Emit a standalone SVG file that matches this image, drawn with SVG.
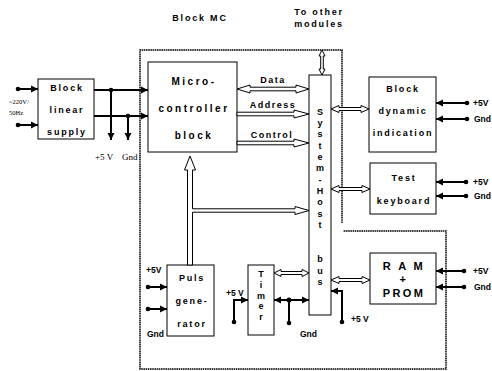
<svg xmlns="http://www.w3.org/2000/svg" width="492" height="371" viewBox="0 0 492 371">
<style>
.box{fill:#fff;stroke:#000;stroke-width:1}
.t{font-family:"Liberation Sans",Arial,sans-serif;font-weight:bold;font-size:9px;letter-spacing:1.8px;text-anchor:middle;fill:#000}
.big{font-size:10px;letter-spacing:2.5px}
.ram{font-size:11px;letter-spacing:2.4px}
.v{font-family:"Liberation Sans",Arial,sans-serif;font-weight:bold;font-size:9px;text-anchor:middle;fill:#000}
.lbl{font-family:"Liberation Sans",Arial,sans-serif;font-weight:bold;font-size:8.5px;fill:#000}
.ser{font-family:"Liberation Serif","Times New Roman",serif;font-size:9px;fill:#000}
.hol{fill:#fff;stroke:#000;stroke-width:1;stroke-linejoin:miter}
.w{fill:none;stroke:#000;stroke-width:2}
.dot{fill:#000}
.border{fill:none;stroke:#000;stroke-width:1.5;stroke-dasharray:1.6 0.6}
</style>
<defs>
<marker id="ah" markerUnits="userSpaceOnUse" markerWidth="8" markerHeight="8" refX="7" refY="4" orient="auto-start-reverse">
<path d="M0,0.5 L7,4 L0,7.5 z" fill="#000"/>
</marker>
</defs>

<g id="labels">
<text class="t" x="200" y="21">Block MC</text>
<text class="t" x="319" y="15">To other</text>
<text class="t" x="319" y="27">modules</text>
</g>

<path id="mc-border" class="border" d="M342,223 L342,50 L140,50 L140,369 L446,369 L446,231 L343,231"/>

<g id="linear-supply">
<rect class="box" x="38" y="79" width="56" height="60"/>
<text class="t" x="67" y="91">Block</text>
<text class="t" x="67" y="113">linear</text>
<text class="t" x="67" y="135">supply</text>
<text class="ser" x="9" y="104" style="font-size:6.5px">~220V/</text>
<text class="ser" x="9" y="115" style="font-size:6.5px">50Hz</text>
<text class="ser" x="95" y="160">+5 V</text>
<text class="ser" x="122" y="160">Gnd</text>
</g>

<g id="microcontroller">
<rect class="box" x="148" y="62" width="89" height="90"/>
<text class="t big" x="194" y="85">Micro-</text>
<text class="t big" x="194" y="112">controller</text>
<text class="t big" x="194" y="139">block</text>
</g>

<g id="system-host-bus">
<rect class="box" x="309" y="75" width="22" height="240"/>
<text class="v" x="320" y="114.5">S</text>
<text class="v" x="320" y="125.9">y</text>
<text class="v" x="320" y="137.2">s</text>
<text class="v" x="320" y="148.6">t</text>
<text class="v" x="320" y="159.9">e</text>
<text class="v" x="320" y="171.3">m</text>
<text class="v" x="320" y="182.7">-</text>
<text class="v" x="320" y="194">H</text>
<text class="v" x="320" y="205.4">o</text>
<text class="v" x="320" y="216.7">s</text>
<text class="v" x="320" y="228.1">t</text>
<text class="v" x="320" y="262.2">b</text>
<text class="v" x="320" y="273.5">u</text>
<text class="v" x="320" y="284.9">s</text>
</g>

<g id="dynamic-indication">
<rect class="box" x="369" y="77" width="67" height="75"/>
<text class="t" x="403" y="91.5">Block</text>
<text class="t" x="403" y="114">dynamic</text>
<text class="t" x="403" y="136">indication</text>
</g>

<g id="test-keyboard">
<rect class="box" x="370" y="163" width="66" height="51"/>
<text class="t" x="404" y="181">Test</text>
<text class="t" x="404" y="204">keyboard</text>
</g>

<g id="ram-prom">
<rect class="box" x="370" y="253" width="66" height="51"/>
<text class="t ram" x="404" y="270">R A M</text>
<text class="t ram" x="404" y="283">+</text>
<text class="t ram" x="404" y="297">PROM</text>
</g>

<g id="puls-generator">
<rect class="box" x="167" y="265" width="47" height="71"/>
<text class="t" x="192" y="281">Puls</text>
<text class="t" x="192" y="304">gene-</text>
<text class="t" x="192" y="327">rator</text>
<text class="lbl" x="146" y="273">+5V</text>
<text class="lbl" x="147" y="337">Gnd</text>
</g>

<g id="timer">
<rect class="box" x="248" y="265" width="26" height="70"/>
<text class="v" x="261" y="277">T</text>
<text class="v" x="261" y="287.8">i</text>
<text class="v" x="261" y="298.6">m</text>
<text class="v" x="261" y="309.4">e</text>
<text class="v" x="261" y="320.2">r</text>
<text class="lbl" x="226" y="296">+5 V</text>
<text class="lbl" x="300" y="337">Gnd</text>
</g>

<g id="connectors">
<polygon class="hol" points="237,89 250,85 250,87.2 296,87.2 296,85 309,89 296,93 296,90.8 250,90.8 250,93"/>
<polygon class="hol" points="237,112.2 294,112.2 294,110 309,114 294,118 294,115.8 237,115.8"/>
<polygon class="hol" points="237,141.2 294,141.2 294,139 309,143 294,147 294,144.8 237,144.8"/>
<polygon class="hol" points="190,156 195.5,170 192.5,170 192.5,208.8 295,208.8 295,206.5 309,210.5 295,214.5 295,212.2 192.5,212.2 192.5,265 187.5,265 187.5,170 184.5,170"/>
<polygon class="hol" points="331,109 339,105.5 339,107.5 361,107.5 361,105.5 369,109 361,112.5 361,110.5 339,110.5 339,112.5"/>
<polygon class="hol" points="331,189 339,185.5 339,187.5 362,187.5 362,185.5 370,189 362,192.5 362,190.5 339,190.5 339,192.5"/>
<polygon class="hol" points="331,280 339,276.5 339,278.5 362,278.5 362,276.5 370,280 362,283.5 362,281.5 339,281.5 339,283.5"/>
<polygon class="hol" points="274,273 281,269.5 281,271.5 302,271.5 302,269.5 309,273 302,276.5 302,274.5 281,274.5 281,276.5"/>
<polygon class="hol" points="322,50 325,56 323.3,56 323.3,69 325,69 322,75 319,69 320.7,69 320.7,56 319,56"/>

<line class="w" x1="18" y1="89" x2="38" y2="89" marker-end="url(#ah)"/>
<line class="w" x1="18" y1="125" x2="38" y2="125" marker-end="url(#ah)"/>
<circle class="dot" cx="18" cy="89" r="2.3"/>
<circle class="dot" cx="18" cy="125" r="2.3"/>
<line class="w" x1="94" y1="90" x2="148" y2="90" marker-end="url(#ah)"/>
<line class="w" x1="94" y1="116" x2="148" y2="116" marker-end="url(#ah)"/>
<circle class="dot" cx="111" cy="90" r="2.3"/>
<circle class="dot" cx="128" cy="116" r="2.3"/>
<line class="w" x1="111" y1="90" x2="111" y2="140" marker-end="url(#ah)"/>
<line class="w" x1="128" y1="116" x2="128" y2="140" marker-end="url(#ah)"/>

<line class="w" x1="467" y1="103" x2="436" y2="103" marker-end="url(#ah)"/>
<line class="w" x1="467" y1="119" x2="436" y2="119" marker-end="url(#ah)"/>
<circle class="dot" cx="467" cy="103" r="2.3"/>
<circle class="dot" cx="467" cy="119" r="2.3"/>
<line class="w" x1="466" y1="182" x2="436" y2="182" marker-end="url(#ah)"/>
<line class="w" x1="466" y1="196" x2="436" y2="196" marker-end="url(#ah)"/>
<circle class="dot" cx="466" cy="182" r="2.3"/>
<circle class="dot" cx="466" cy="196" r="2.3"/>
<line class="w" x1="464" y1="271" x2="436" y2="271" marker-end="url(#ah)"/>
<line class="w" x1="464" y1="287" x2="436" y2="287" marker-end="url(#ah)"/>
<circle class="dot" cx="464" cy="271" r="2.3"/>
<circle class="dot" cx="464" cy="287" r="2.3"/>

<line class="w" x1="148" y1="287" x2="167" y2="287" marker-end="url(#ah)"/>
<line class="w" x1="148" y1="309" x2="167" y2="309" marker-end="url(#ah)"/>
<circle class="dot" cx="148" cy="287" r="2.3"/>
<circle class="dot" cx="148" cy="309" r="2.3"/>

<polyline class="w" points="234,322 234,300 248,300" marker-end="url(#ah)"/>
<circle class="dot" cx="234" cy="322" r="2.3"/>
<line class="w" x1="274" y1="300" x2="309" y2="300" marker-start="url(#ah)" marker-end="url(#ah)"/>
<circle class="dot" cx="289" cy="300" r="2.5"/>
<line class="w" x1="289" y1="300" x2="289" y2="323"/>
<circle class="dot" cx="289" cy="323" r="2.3"/>

<polyline class="w" points="342,322 342,291 331,291" marker-end="url(#ah)"/>
<circle class="dot" cx="342" cy="322" r="2.3"/>
</g>

<g id="power-labels">
<text class="lbl" x="473" y="106">+5V</text>
<text class="lbl" x="474" y="122">Gnd</text>
<text class="lbl" x="473" y="185">+5V</text>
<text class="lbl" x="474" y="199">Gnd</text>
<text class="lbl" x="473" y="274">+5V</text>
<text class="lbl" x="474" y="290">Gnd</text>
<text class="lbl" x="351" y="322">+5 V</text>
<text class="t" x="273" y="83" style="letter-spacing:1.5px">Data</text>
<text class="t" x="273" y="108" style="letter-spacing:1.5px">Address</text>
<text class="t" x="272" y="138" style="letter-spacing:1.5px">Control</text>
</g>
</svg>
